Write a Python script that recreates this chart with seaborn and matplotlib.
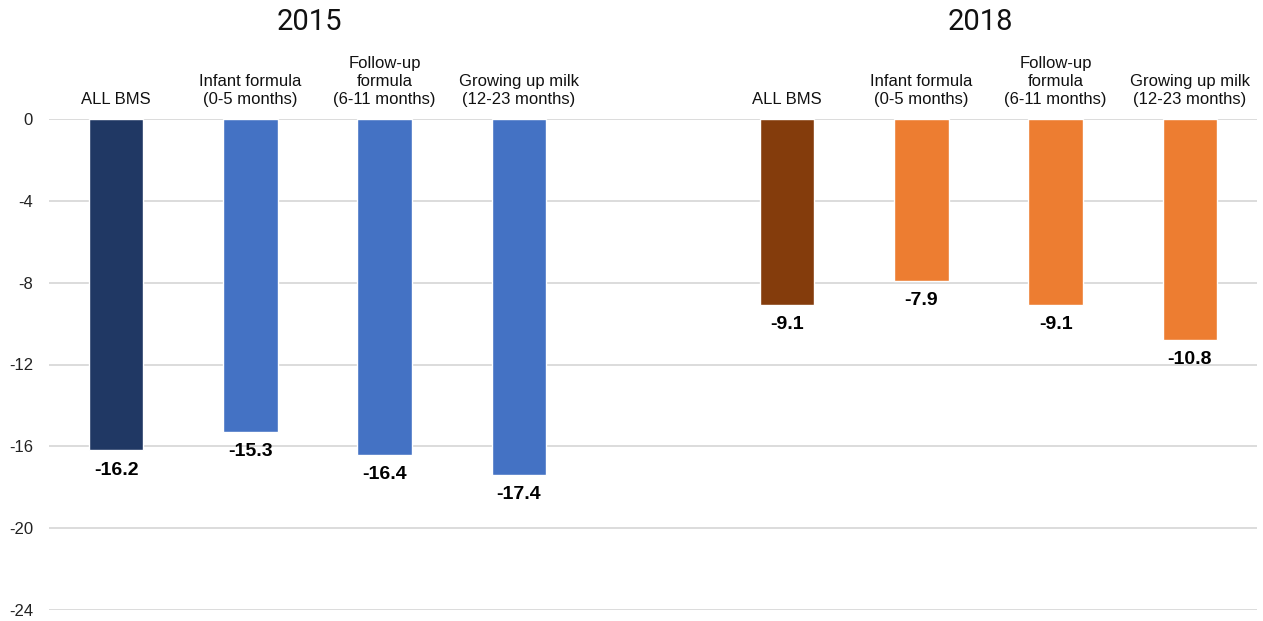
import matplotlib
matplotlib.use("Agg")
import matplotlib.pyplot as plt
import seaborn as sns
import pandas as pd

years = ["2015", "2018"]
categories = ["ALL BMS", "Infant formula\n(0-5 months)", "Follow-up\nformula\n(6-11 months)",
              "Growing up milk\n(12-23 months)"]
values_2015 = [-16.2, -15.3, -16.4, -17.4]
values_2018 = [-9.1, -7.9, -9.1, -10.8]
colors_2015 = ["#203864", "#4472C4", "#4472C4", "#4472C4"]
colors_2018 = ["#843C0C", "#ED7D31", "#ED7D31", "#ED7D31"]
yticks = [0, -4, -8, -12, -16, -20, -24]

sns.set_theme(style="white")
plt.rcParams['font.family'] = ['Liberation Sans', 'DejaVu Sans']

rows = []
palette = {}
for yr, vals, cols in [("2015", values_2015, colors_2015), ("2018", values_2018, colors_2018)]:
    for c, v, col in zip(categories, vals, cols):
        key = f"{yr}|{c}"
        rows.append({"key": key, "year": yr, "category": c, "value": v})
        palette[key] = col
df = pd.DataFrame(rows)
order = [f"2015|{c}" for c in categories] + ["gap"] + [f"2018|{c}" for c in categories]

W, H = 1263, 621
fig = plt.figure(figsize=(W / 100, H / 100), dpi=100)
ax = fig.add_axes([49 / W, (H - 610) / H, 1208 / W, 491 / H])
sns.barplot(data=df, x="key", y="value", hue="key", order=order, palette=palette,
            width=0.405, saturation=1, legend=False, ax=ax, errorbar=None)

ax.set_ylim(-24, 0)
ax.set_xlim(-0.5, 8.5)
ax.set_yticks(yticks)
ax.set_yticklabels([str(t) for t in yticks], fontsize=12, color="#222222")
ax.yaxis.grid(True, color="#D9D9D9", linewidth=1.3)
ax.set_axisbelow(True)
ax.set_xticks([])
ax.set_xlabel("")
ax.set_ylabel("")
for s in ax.spines.values():
    s.set_visible(False)
ax.tick_params(axis="y", length=0, pad=11.5)

for i, k in enumerate(order):
    if k == "gap":
        continue
    r = df[df["key"] == k].iloc[0]
    ax.annotate(f"{r['value']:.1f}", (i, r['value']), xytext=(0, -8), textcoords="offset points",
                ha="center", va="top", fontsize=14, fontweight="bold", color="#000000")
    ax.annotate(r['category'], (i, 0), xytext=(0, 8.3), textcoords="offset points",
                ha="center", va="bottom", fontsize=12, color="#111111", linespacing=1.25,
                annotation_clip=False)

for yr, center in [("2015", 1.44), ("2018", 6.44)]:
    x_fig = fig.transFigure.inverted().transform(ax.transData.transform((center, 0)))[0]
    fig.text(x_fig, 1 - 22.5 / H, yr, ha="center", va="center", fontsize=21, color="#111111",
             family=['Roboto', 'Liberation Sans', 'DejaVu Sans'])

fig.savefig("out.png", dpi=100)
